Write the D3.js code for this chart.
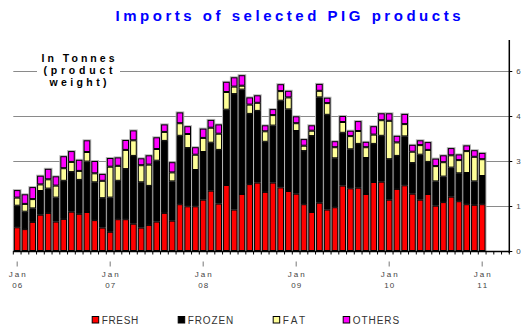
<!DOCTYPE html>
<html>
<head>
<meta charset="utf-8">
<script src="https://cdn.jsdelivr.net/npm/d3@7"></script>
<style>
  html, body { margin: 0; padding: 0; background: #fff; }
  svg { display: block; }
</style>
</head>
<body>
<svg id="chart" width="527" height="330"></svg>
<script>
// Monthly imports, Jan 2006 – Jan 2011, in product weight
const months = [
  "2006-01","2006-02","2006-03","2006-04","2006-05","2006-06","2006-07","2006-08","2006-09","2006-10","2006-11","2006-12",
  "2007-01","2007-02","2007-03","2007-04","2007-05","2007-06","2007-07","2007-08","2007-09","2007-10","2007-11","2007-12",
  "2008-01","2008-02","2008-03","2008-04","2008-05","2008-06","2008-07","2008-08","2008-09","2008-10","2008-11","2008-12",
  "2009-01","2009-02","2009-03","2009-04","2009-05","2009-06","2009-07","2009-08","2009-09","2009-10","2009-11","2009-12",
  "2010-01","2010-02","2010-03","2010-04","2010-05","2010-06","2010-07","2010-08","2010-09","2010-10","2010-11","2010-12",
  "2011-01"
];
const fresh = [
  0.79,0.73,0.97,1.21,1.27,0.98,1.07,1.31,1.24,1.30,1.03,0.78,
  0.64,1.06,1.06,0.91,0.78,0.87,0.98,1.27,1.01,1.56,1.49,1.49,
  1.71,2.01,1.58,2.20,1.38,1.90,2.23,2.28,1.97,2.28,2.12,2.00,
  1.91,1.56,1.30,1.61,1.38,1.46,2.18,2.09,2.11,1.90,2.30,2.31,
  1.71,2.07,2.19,1.91,1.71,1.90,1.51,1.63,1.81,1.66,1.56,1.54,
  1.56
];
const frozen = [
  0.72,0.58,0.45,0.79,0.81,0.80,1.27,1.32,1.13,1.68,1.26,0.98,
  1.14,1.28,1.67,2.26,1.51,1.30,2.03,2.40,1.31,2.28,1.94,1.21,
  1.59,1.60,1.79,2.51,3.85,3.48,2.34,2.39,1.67,1.90,2.89,2.72,
  2.09,1.77,2.53,3.51,3.16,1.63,1.76,1.30,1.46,1.20,1.27,1.53,
  1.35,1.10,1.63,1.02,1.50,1.07,0.81,0.85,0.97,0.93,1.04,0.78,
  0.94
];
const fat = [
  0.27,0.26,0.31,0.22,0.31,0.40,0.42,0.34,0.30,0.32,0.30,0.58,
  1.03,0.50,0.64,0.52,0.57,0.71,0.39,0.30,0.30,0.42,0.47,0.51,
  0.47,0.50,0.54,0.59,0.25,0.13,0.31,0.27,0.35,0.35,0.32,0.40,
  0.26,0.18,0.18,0.22,0.39,0.37,0.36,0.44,0.43,0.36,0.31,0.52,
  1.28,0.45,0.41,0.38,0.32,0.40,0.51,0.48,0.41,0.44,0.73,0.82,
  0.56
];
const others = [
  0.25,0.32,0.40,0.29,0.35,0.31,0.40,0.36,0.37,0.39,0.41,0.23,
  0.29,0.28,0.33,0.33,0.23,0.31,0.39,0.25,0.34,0.36,0.26,0.25,
  0.31,0.26,0.31,0.34,0.31,0.35,0.24,0.25,0.20,0.20,0.23,0.22,
  0.23,0.22,0.18,0.23,0.18,0.20,0.20,0.18,0.33,0.18,0.28,0.23,
  0.25,0.22,0.34,0.23,0.16,0.26,0.25,0.23,0.24,0.19,0.19,0.22,
  0.21
];

const seriesKeys   = ["FRESH", "FROZEN", "FAT", "OTHERS"];
const seriesColors = ["#ff0000", "#000000", "#ffff99", "#ff00ff"];
const yTickValues  = [0, 1.5, 3, 4.5, 6];
const yTickLabels  = ["0", "1", "3", "4", "6"];
const titleText    = "Imports of selected PIG products";
const unitLines    = ["In Tonnes", "(product", "weight)"];

const parse = d3.timeParse("%Y-%m");
const rows = months.map((m, i) => ({
  date: parse(m),
  FRESH: fresh[i], FROZEN: frozen[i], FAT: fat[i], OTHERS: others[i]
}));

// The time axis runs three months past the last observation
const firstMonth = rows[0].date;
const axisEnd = d3.timeMonth.offset(rows[rows.length - 1].date, 4);
const slots = d3.timeMonth.range(firstMonth, axisEnd);

const plotLeft = 13.3, plotRight = 509.3, plotBottom = 251, plotTop = 71;

const svg = d3.select("#chart");

const x = d3.scaleBand()
  .domain(slots.map(d => +d))
  .range([plotLeft, plotRight])
  .paddingInner(0.14)
  .paddingOuter(0.07);

const y = d3.scaleLinear().domain([0, 6]).range([plotBottom, plotTop]);

// Horizontal gridlines
svg.append("g")
  .selectAll("line")
  .data(yTickValues.filter(v => v > 0))
  .join("line")
  .attr("x1", plotLeft).attr("x2", plotRight)
  .attr("y1", d => y(d) + 0.5).attr("y2", d => y(d) + 0.5)
  .attr("stroke", "#8a8a8a")
  .attr("stroke-width", 1);

// Unit caption sits over the top gridline on a white backing
const unitG = svg.append("g");
unitG.append("rect")
  .attr("x", 37).attr("y", 52).attr("width", 83).attr("height", 36)
  .attr("fill", "#fff");
const unitWidths = [73, 69, 57];
unitG.selectAll("text")
  .data(unitLines)
  .join("text")
  .attr("x", 78)
  .attr("y", (d, i) => 62 + i * 12)
  .attr("text-anchor", "middle")
  .attr("font-family", "Liberation Sans, Arial, sans-serif")
  .attr("font-weight", "bold")
  .attr("font-size", 10.5)
  .attr("textLength", (d, i) => unitWidths[i])
  .attr("lengthAdjust", "spacing")
  .attr("fill", "#000")
  .text(d => d);

// Stacked bars
const stacked = d3.stack().keys(seriesKeys)(rows);
const bw = x.bandwidth();
const total = d => d.FRESH + d.FROZEN + d.FAT + d.OTHERS;

// soft grey halo around each bar
svg.append("g")
  .selectAll("rect")
  .data(rows)
  .join("rect")
  .attr("x", d => x(+d.date) - 1)
  .attr("width", bw + 2)
  .attr("y", d => y(total(d)) - 1)
  .attr("height", d => plotBottom - y(total(d)) + 1)
  .attr("fill", "#b4b4b4");

svg.append("g")
  .selectAll("g")
  .data(stacked)
  .join("g")
  .attr("fill", (s, i) => seriesColors[i])
  .selectAll("rect")
  .data(s => s)
  .join("rect")
  .attr("x", d => x(+d.data.date) + 0.5)
  .attr("width", bw - 1)
  .attr("y", d => y(d[1]) + 0.5)
  .attr("height", d => Math.max(0, y(d[0]) - y(d[1]) - 1))
  .attr("stroke", "#000")
  .attr("stroke-width", 1);

// Bottom axis line with a tick at every month boundary
const step = x.step();
svg.append("line")
  .attr("x1", plotLeft).attr("x2", plotRight)
  .attr("y1", plotBottom + 0.5).attr("y2", plotBottom + 0.5)
  .attr("stroke", "#000").attr("stroke-width", 1.5);
svg.append("g")
  .selectAll("line")
  .data(d3.range(slots.length + 1))
  .join("line")
  .attr("x1", i => plotLeft + i * step)
  .attr("x2", i => plotLeft + i * step)
  .attr("y1", plotBottom).attr("y2", plotBottom + 3.5)
  .attr("stroke", "#000").attr("stroke-width", 1);

// January labels
const jans = rows.filter(d => d.date.getMonth() === 0);
const monthLab = svg.append("g")
  .attr("font-family", "Liberation Sans, Arial, sans-serif")
  .attr("font-size", 8)
  .attr("fill", "#444");
const labG = monthLab.selectAll("g")
  .data(jans)
  .join("g")
  .attr("transform", d => `translate(${x(+d.date) + bw / 2},0)`);
labG.append("line")
  .attr("x1", 0).attr("x2", 0)
  .attr("y1", 261.5).attr("y2", 266.5)
  .attr("stroke", "#777").attr("stroke-width", 1);
labG.append("text")
  .attr("y", 276.5)
  .attr("text-anchor", "middle")
  .attr("textLength", 17)
  .attr("lengthAdjust", "spacing")
  .text(d => d3.timeFormat("%b")(d.date));
labG.append("text")
  .attr("y", 287.5)
  .attr("text-anchor", "middle")
  .attr("textLength", 10)
  .attr("lengthAdjust", "spacing")
  .text(d => d3.timeFormat("%y")(d.date));

// Right-hand value axis
const yAxis = d3.axisRight(y)
  .tickValues(yTickValues)
  .tickFormat((d, i) => yTickLabels[i])
  .tickSize(3)
  .tickPadding(4);
const yAxisG = svg.append("g")
  .attr("transform", `translate(${plotRight},0)`)
  .call(yAxis);
yAxisG.select(".domain").remove();
yAxisG.selectAll(".tick line").attr("stroke", "#000");
yAxisG.selectAll(".tick text")
  .attr("font-family", "Liberation Sans, Arial, sans-serif")
  .attr("font-size", 8)
  .attr("fill", "#444");
svg.append("line")
  .attr("x1", plotRight).attr("x2", plotRight)
  .attr("y1", 40).attr("y2", plotBottom + 2)
  .attr("stroke", "#000").attr("stroke-width", 1.5);

// Title
svg.append("text")
  .attr("x", 288)
  .attr("y", 21)
  .attr("text-anchor", "middle")
  .attr("font-family", "Liberation Sans, Arial, sans-serif")
  .attr("font-weight", "bold")
  .attr("font-size", 15)
  .attr("textLength", 345)
  .attr("lengthAdjust", "spacing")
  .attr("fill", "#0000ff")
  .text(titleText);

// Legend
const legendX = [91.7, 177.7, 272.7, 342.7];
const legendW = [36.5, 45.5, 22.5, 46.5];
const legend = svg.append("g")
  .selectAll("g")
  .data(seriesKeys)
  .join("g")
  .attr("transform", (d, i) => `translate(${legendX[i]},316)`);
legend.append("rect")
  .attr("x", 0.5).attr("y", 0.5)
  .attr("width", 6.5).attr("height", 6.5)
  .attr("fill", (d, i) => seriesColors[i])
  .attr("stroke", "#000").attr("stroke-width", 1);
legend.append("text")
  .attr("x", 10)
  .attr("y", 7.5)
  .attr("font-family", "Liberation Sans, Arial, sans-serif")
  .attr("font-size", 10)
  .attr("fill", "#333")
  .attr("textLength", (d, i) => legendW[i])
  .attr("lengthAdjust", "spacing")
  .text(d => d);
</script>
</body>
</html>
